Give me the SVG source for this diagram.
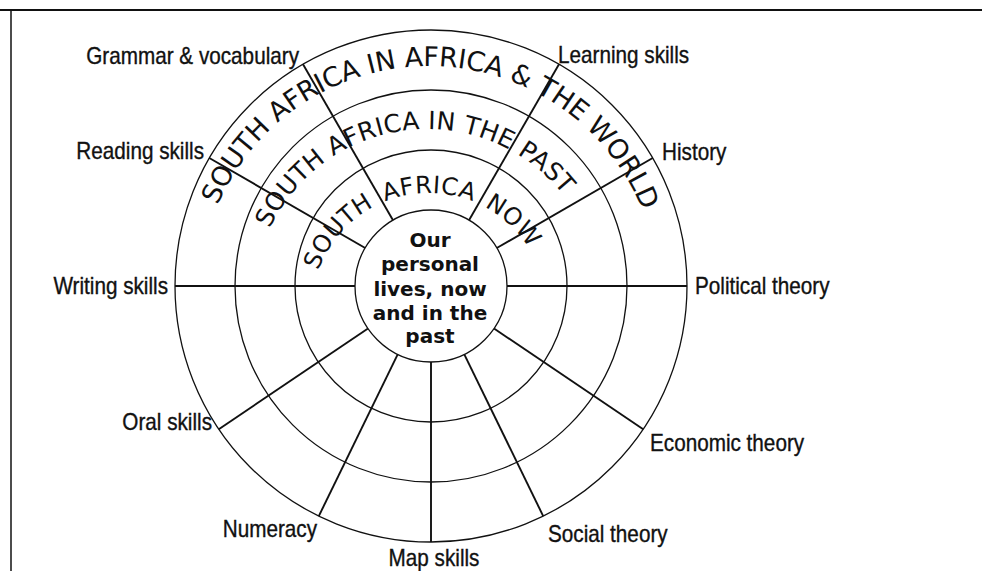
<svg xmlns="http://www.w3.org/2000/svg" xmlns:xlink="http://www.w3.org/1999/xlink" width="982" height="571" viewBox="0 0 982 571">
  <style>
    .ring { fill: none; stroke: #111; stroke-width: 1.3; }
    .spoke { stroke: #111; stroke-width: 1.9; fill: none; }
    .frame { stroke: #111; fill: none; }
    .lbl { font-family: "Liberation Sans", Arial, sans-serif; font-size: 23px; fill: #111; stroke: #111; stroke-width: 0.35; }
    .end { text-anchor: end; }
    .mid { text-anchor: middle; }
    .arc { font-family: "DejaVu Sans", "Liberation Sans", sans-serif; fill: #111; text-anchor: middle; }
    .core { font-family: "DejaVu Sans", "Liberation Sans", sans-serif; font-weight: bold; font-size: 20px; fill: #111; text-anchor: middle; }
  </style>
  <defs>
    <path id="pOuter" d="M 199 296 A 230 230 0 0 1 659 296"/>
    <path id="pMid" d="M 253 303 A 174 174 0 0 1 601 303"/>
    <path id="pInner" d="M 311 311 A 118 118 0 0 1 547 311"/>
  </defs>
  <rect width="982" height="571" fill="#fff"/>
  <g id="frame">
    <line class="frame" x1="0" y1="10" x2="982" y2="10" stroke-width="2"/>
    <line class="frame" x1="11" y1="10" x2="11" y2="571" stroke-width="1.5"/>
  </g>
  <g id="rings">
    <circle class="ring" cx="431" cy="286" r="256"/>
    <circle class="ring" cx="431" cy="286" r="196"/>
    <circle class="ring" cx="431" cy="286" r="136"/>
  </g>
  <g id="connectors">
    <line class="spoke" x1="365.2" y1="248" x2="209.3" y2="158"/>
    <line class="spoke" x1="393" y1="220.2" x2="303" y2="64.3"/>
    <line class="spoke" x1="469" y1="220.2" x2="559" y2="64.3"/>
    <line class="spoke" x1="496.8" y1="248" x2="652.7" y2="158"/>
    <line class="spoke" x1="507" y1="286" x2="687" y2="286" stroke-width="1.3"/>
    <line class="spoke" x1="355" y1="286" x2="175" y2="286" stroke-width="1.3"/>
    <line class="spoke" x1="368" y1="328.5" x2="218.8" y2="429.2"/>
    <line class="spoke" x1="397.7" y1="354.3" x2="318.8" y2="516.1"/>
    <line class="spoke" x1="431" y1="362" x2="431" y2="542"/>
    <line class="spoke" x1="464.3" y1="354.3" x2="543.2" y2="516.1"/>
    <line class="spoke" x1="494" y1="328.5" x2="643.2" y2="429.2"/>
  </g>
  <g id="ring-outer">
    <text class="arc" font-size="27" letter-spacing="-0.2"><textPath xlink:href="#pOuter" href="#pOuter" startOffset="50.4%">SOUTH AFRICA IN AFRICA &amp; THE WORLD</textPath></text>
  </g>
  <g id="ring-middle">
    <text class="arc" font-size="25" letter-spacing="0.2"><textPath xlink:href="#pMid" href="#pMid" startOffset="46.4%">SOUTH AFRICA IN THE PAST</textPath></text>
  </g>
  <g id="ring-inner">
    <text class="arc" font-size="24" letter-spacing="0.5" word-spacing="4"><textPath xlink:href="#pInner" href="#pInner" startOffset="46.7%">SOUTH AFRICA NOW</textPath></text>
  </g>
  <g id="core">
    <circle cx="431" cy="286" r="76" fill="#fff" class="ring"/>
    <text class="core" x="430" y="247">Our</text>
    <text class="core" x="430" y="271">personal</text>
    <text class="core" x="430" y="296">lives, now</text>
    <text class="core" x="430" y="320">and in the</text>
    <text class="core" x="430" y="343">past</text>
  </g>
  <g id="label-grammar"><text class="lbl end" transform="translate(299 64) scale(0.9 1)">Grammar &amp; vocabulary</text></g>
  <g id="label-learning"><text class="lbl" transform="translate(558 63) scale(0.9 1)">Learning skills</text></g>
  <g id="label-reading"><text class="lbl end" transform="translate(204 159) scale(0.9 1)">Reading skills</text></g>
  <g id="label-history"><text class="lbl" transform="translate(662 160) scale(0.9 1)">History</text></g>
  <g id="label-writing"><text class="lbl end" transform="translate(168 294) scale(0.9 1)">Writing skills</text></g>
  <g id="label-political"><text class="lbl" transform="translate(695 294) scale(0.9 1)">Political theory</text></g>
  <g id="label-oral"><text class="lbl end" transform="translate(212 430) scale(0.9 1)">Oral skills</text></g>
  <g id="label-economic"><text class="lbl" transform="translate(650 451) scale(0.9 1)">Economic theory</text></g>
  <g id="label-numeracy"><text class="lbl end" transform="translate(317 537) scale(0.9 1)">Numeracy</text></g>
  <g id="label-social"><text class="lbl" transform="translate(548 542) scale(0.9 1)">Social theory</text></g>
  <g id="label-map"><text class="lbl mid" transform="translate(434 566) scale(0.9 1)">Map skills</text></g>
</svg>
